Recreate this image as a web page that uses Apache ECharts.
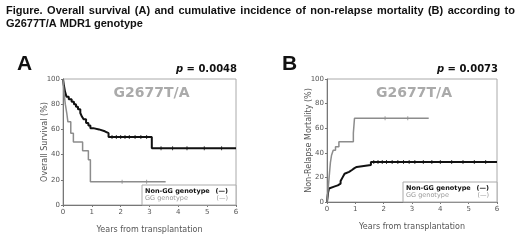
<!DOCTYPE html>
<html>
<head>
<meta charset="utf-8">
<script src="https://cdn.jsdelivr.net/npm/echarts@6/dist/echarts.min.js"></script>
<style>
  html, body { margin: 0; padding: 0; background: #fff; }
  #chart { width: 520px; height: 242px; }
</style>
</head>
<body>
<div id="chart"></div>
<script>
// Panel A: overall survival (%), step points [years, value]
const osNonGG = [[0, 100], [0.03, 95], [0.07, 90], [0.12, 86], [0.2, 84], [0.3, 82], [0.38, 80], [0.45, 78], [0.52, 76], [0.6, 73], [0.66, 70], [0.72, 68], [0.8, 65], [0.88, 63], [0.95, 61], [1.05, 60], [1.25, 58.5], [1.45, 57], [1.58, 54], [3.08, 45], [6, 45]]
const osGG = [[0, 100], [0.04, 88], [0.08, 80], [0.13, 73], [0.17, 66], [0.27, 57], [0.36, 50], [0.68, 43], [0.88, 36], [0.95, 18.5], [3.56, 18.5]]
const osNonGGCensor = [[1.7, 54], [1.85, 54], [2.0, 54], [2.15, 54], [2.3, 54], [2.5, 54], [2.7, 54], [2.9, 54], [3.4, 45], [3.8, 45], [4.3, 45], [4.9, 45], [5.5, 45]]
const osGGCensor = [[2.05, 18.5], [2.9, 18.5]]

// Panel B: non-relapse mortality (%)
const nrmNonGG = [[0, 0], [0.02, 4], [0.04, 8], [0.07, 11], [0.12, 12.5], [0.25, 13.5], [0.38, 15], [0.48, 17], [0.55, 20], [0.62, 23], [0.68, 24.5], [0.78, 26], [0.88, 27.5], [0.97, 28.5], [1.05, 30], [1.55, 32.5], [6, 32.5]]
const nrmGG = [[0, 0], [0.03, 8], [0.06, 16], [0.09, 24], [0.12, 32], [0.16, 38], [0.22, 42], [0.3, 45], [0.42, 49], [0.93, 56], [0.97, 68], [3.59, 68]]
const nrmNonGGCensor = [[1.65, 32.5], [1.8, 32.5], [1.95, 32.5], [2.1, 32.5], [2.3, 32.5], [2.5, 32.5], [2.7, 32.5], [2.9, 32.5], [3.1, 32.5], [3.4, 32.5], [3.7, 32.5], [4.0, 32.5], [4.4, 32.5], [4.8, 32.5], [5.2, 32.5], [5.6, 32.5]]
const nrmGGCensor = [[2.05, 68], [2.85, 68]]

const yTicks = [0, 20, 40, 60, 80, 100]
const xTicks = [0, 1, 2, 3, 4, 5, 6]
const pValues = ['0.0048', '0.0073']
const panelLabels = ['A', 'B']
const yNames = ['Overall Survival (%)', 'Non-Relapse Mortality (%)']
const legendNames = ['Non-GG genotype', 'GG genotype']
const titleLine1 = 'Figure. Overall survival (A) and cumulative incidence of non-relapse mortality (B) according to'
const titleLine2 = 'G2677T/A MDR1 genotype'

const BLACK = '#111'
const GRAY = '#8c8c8c'
const FONT = 'DejaVu Sans'
const TITLE_FONT = 'bold 11px "Liberation Sans"'

const chart = echarts.init(document.getElementById('chart'))

const grids = [
  { left: 63, top: 79, width: 173, height: 126 },
  { left: 327, top: 79, width: 170, height: 123 }
]

function xAxisFor(i) {
  return {
    gridIndex: i, type: 'value', min: 0, max: 6, interval: 1,
    name: 'Years from transplantation', nameLocation: 'middle', nameGap: 21, nameMoveOverlap: false,
    nameTextStyle: { color: '#555', fontSize: 8, fontFamily: FONT },
    axisLine: { lineStyle: { color: '#777' } },
    axisTick: { length: 2, lineStyle: { color: '#777' } },
    axisLabel: { color: '#555', fontSize: 7, fontFamily: FONT, margin: 4,
      formatter: v => xTicks.includes(v) ? String(v) : '' },
    splitLine: { show: false }
  }
}
function yAxisFor(i) {
  return {
    gridIndex: i, type: 'value', min: 0, max: 100, interval: 20,
    name: yNames[i], nameLocation: 'middle', nameGap: 14, nameMoveOverlap: false,
    nameTextStyle: { color: '#555', fontSize: 8, fontFamily: FONT },
    axisLine: { show: true, lineStyle: { color: '#777' } },
    axisTick: { show: true, length: 2, lineStyle: { color: '#777' } },
    axisLabel: { color: '#555', fontSize: 7, fontFamily: FONT, margin: 3,
      formatter: v => yTicks.includes(v) ? String(v) : '' },
    splitLine: { show: false }
  }
}

function stepLine(i, data, color, width) {
  return {
    type: 'line', xAxisIndex: i, yAxisIndex: i, data, step: 'end',
    showSymbol: false, lineStyle: { color, width }, silent: true, z: 3
  }
}
function censor(i, data, color) {
  return {
    type: 'scatter', xAxisIndex: i, yAxisIndex: i, data,
    symbol: 'rect', symbolSize: [1, 4], itemStyle: { color }, silent: true, z: 4
  }
}

// justify the first caption line across the page, like the original
const ctx = document.createElement('canvas').getContext('2d')
ctx.font = TITLE_FONT
const words = titleLine1.split(' ')
const widths = words.map(w => ctx.measureText(w).width)
const span = 509
const gap = (span - widths.reduce((a, b) => a + b, 0)) / (words.length - 1)
const graphics = []
let cx = 6
words.forEach((w, k) => {
  graphics.push({ type: 'text', x: cx, y: 5, style: { text: w, font: TITLE_FONT, fill: '#111' } })
  cx += widths[k] + gap
})
graphics.push({ type: 'text', x: 6, y: 18, style: { text: titleLine2, font: TITLE_FONT, fill: '#111' } })

grids.forEach((g, i) => {
  const right = g.left + g.width
  const bottom = g.top + g.height
  graphics.push(
    { type: 'text', x: i === 0 ? 17 : 282, y: 54, style: { text: panelLabels[i], font: 'bold 21px "Liberation Sans"', fill: '#111' } },
    { type: 'text', x: right + 1, y: 64, style: { text: '{i|p} = ' + pValues[i], align: 'right', font: 'bold 10px "DejaVu Sans"', fill: '#111',
      rich: { i: { fontStyle: 'italic', fontWeight: 'bold', fontSize: 10, fontFamily: 'DejaVu Sans' } } } },
    { type: 'text', x: g.left + g.width / 2 + 2, y: 86, style: { text: 'G2677T/A', align: 'center', font: 'bold 14px "DejaVu Sans"', fill: '#aaa' } },
    { type: 'rect', shape: { x: right - 94, y: bottom - 20, width: 94, height: 20 }, style: { fill: '#fff', stroke: '#aaa', lineWidth: 1 }, z: 10 },
    { type: 'text', x: right - 91, y: bottom - 17, z: 11, style: { text: legendNames[0], font: 'bold 6.5px "DejaVu Sans"', fill: '#111' } },
    { type: 'text', x: right - 8, y: bottom - 17, z: 11, style: { text: '(—)', align: 'right', font: 'bold 6.5px "DejaVu Sans"', fill: '#111' } },
    { type: 'text', x: right - 91, y: bottom - 10, z: 11, style: { text: legendNames[1], font: '6.5px "DejaVu Sans"', fill: '#999' } },
    { type: 'text', x: right - 8, y: bottom - 10, z: 11, style: { text: '(—)', align: 'right', font: '6.5px "DejaVu Sans"', fill: '#999' } }
  )
})

chart.setOption({
  animation: false,
  grid: grids.map(g => ({ ...g, show: true, borderColor: '#aaa', borderWidth: 1, backgroundColor: 'transparent' })),
  xAxis: [xAxisFor(0), xAxisFor(1)],
  yAxis: [yAxisFor(0), yAxisFor(1)],
  series: [
    stepLine(0, osNonGG, BLACK, 2),
    stepLine(0, osGG, GRAY, 1.5),
    censor(0, osNonGGCensor, BLACK),
    censor(0, osGGCensor, GRAY),
    stepLine(1, nrmNonGG, BLACK, 2),
    stepLine(1, nrmGG, GRAY, 1.5),
    censor(1, nrmNonGGCensor, BLACK),
    censor(1, nrmGGCensor, GRAY)
  ],
  graphic: graphics
})
</script>
</body>
</html>
